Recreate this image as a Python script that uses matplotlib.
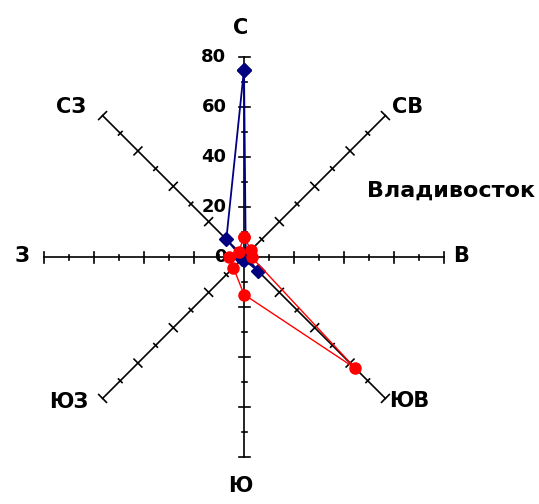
import numpy as np
import matplotlib.pyplot as plt

directions = ['С', 'СВ', 'В', 'ЮВ', 'Ю', 'ЮЗ', 'З', 'СЗ']
blue_vals = [75, 1, 1, 8, 1, 1, 1, 10]
red_vals = [8, 4, 3, 63, 15, 6, 6, 3]
rticks = [0, 20, 40, 60, 80]
rmax = 80
title = 'Владивосток'

plt.rcParams['font.family'] = ['DejaVu Sans']

angles = np.deg2rad(np.arange(len(directions)) * 45)

# where the direction names sit (data units, centre = 0,0)
label_pos = [(-1.5, 91.5), (65.5, 60), (87, 0.4), (66, -57.5),
             (-1.5, -91.5), (-70, -58), (-89, 0.4), (-69, 60)]


def to_xy(vals):
    v = np.asarray(vals, dtype=float)
    x = v * np.sin(angles)
    y = v * np.cos(angles)
    return np.append(x, x[0]), np.append(y, y[0])


fig = plt.figure(figsize=(5.39, 5.04), dpi=100)
ax = fig.add_axes([0, 0, 1, 1])
ax.set_xlim(-97.6, 118)
ax.set_ylim(-98.8, 102.8)
ax.set_aspect('equal')
ax.axis('off')

# spokes with ticks
for a in angles:
    ux, uy = np.sin(a), np.cos(a)
    px, py = np.cos(a), -np.sin(a)
    ax.plot([0, rmax * ux], [0, rmax * uy], color='black', lw=1.2, zorder=1)
    for t in range(10, rmax + 1, 10):
        h = 2.2 if t % 20 == 0 else 1.0
        cx, cy = t * ux, t * uy
        ax.plot([cx - h * px, cx + h * px], [cy - h * py, cy + h * py],
                color='black', lw=1.2, zorder=1)

for (lx, ly), name in zip(label_pos, directions):
    ax.text(lx, ly, name, ha='center', va='center', fontsize=15, fontweight='bold')

# radial tick labels on north axis
for t in rticks:
    ax.text(-7, t, str(t), ha='right', va='center', fontsize=13, fontweight='bold')

bx, by = to_xy(blue_vals)
rx, ry = to_xy(red_vals)
ax.plot(bx, by, color='#000080', lw=1.3, marker='D', ms=7, zorder=3)
ax.plot(rx, ry, color='#ff0000', lw=1.0, marker='o', ms=8,
        markeredgecolor='#ff0000', zorder=4)

ax.text(83, 26.4, title, ha='center', va='center', fontsize=16, fontweight='bold')

fig.savefig('out.png', dpi=100, facecolor='white')
